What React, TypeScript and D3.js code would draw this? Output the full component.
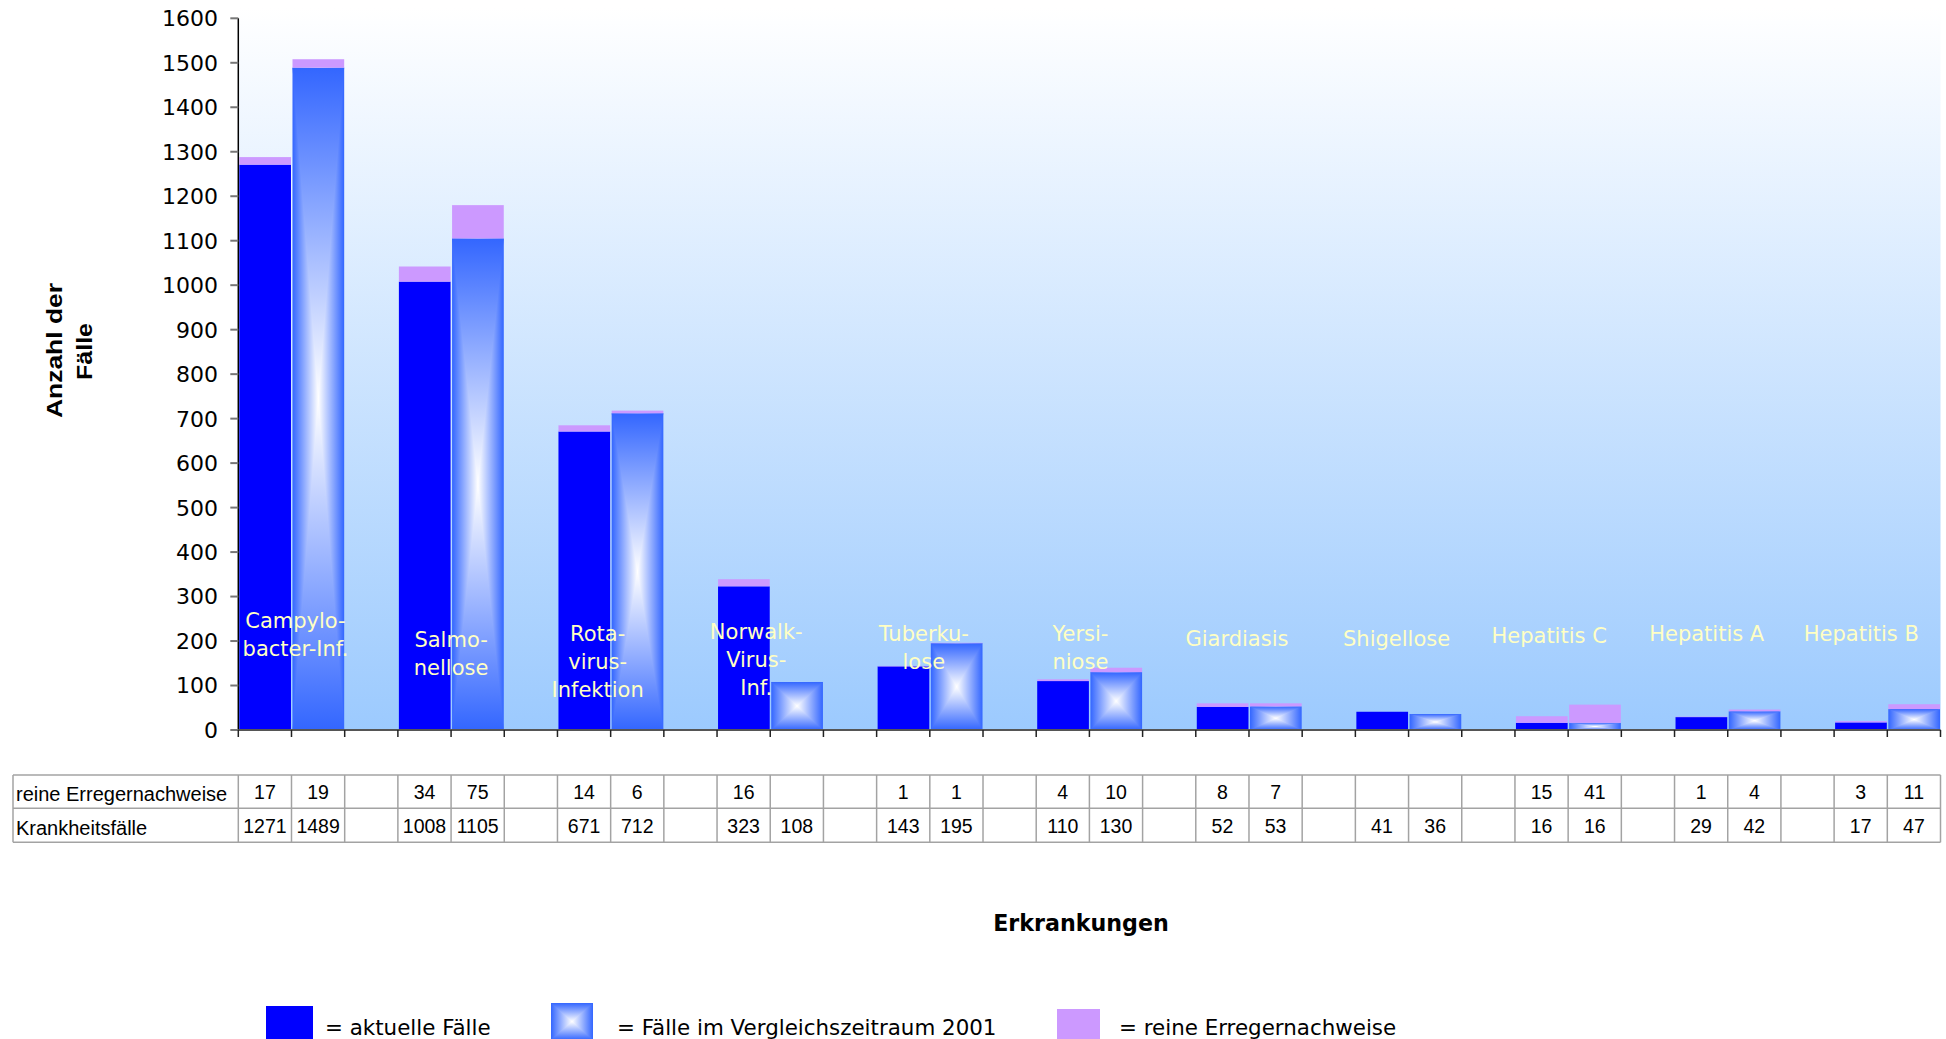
import React from "react";
import * as d3 from "d3";

// Disease categories, label lines as they are broken inside the plot
const categoryLines: string[][] = [
  ["Campylo-", "bacter-Inf."],
  ["Salmo-", "nellose"],
  ["Rota-", "virus-", "Infektion"],
  ["Norwalk-", "Virus-", "Inf."],
  ["Tuberku-", "lose"],
  ["Yersi-", "niose"],
  ["Giardiasis"],
  ["Shigellose"],
  ["Hepatitis C"],
  ["Hepatitis A"],
  ["Hepatitis B"],
];

// Krankheitsfälle: current period and comparison period 2001
const casesCurrent = [1271, 1008, 671, 323, 143, 110, 52, 41, 16, 29, 17];
const casesPrior = [1489, 1105, 712, 108, 195, 130, 53, 36, 16, 42, 47];

// reine Erregernachweise (null = no entry)
const pathogenCurrent: (number | null)[] = [17, 34, 14, 16, 1, 4, 8, null, 15, 1, 3];
const pathogenPrior: (number | null)[] = [19, 75, 6, null, 1, 10, 7, null, 41, 4, 11];

const rowLabels = ["reine Erregernachweise", "Krankheitsfälle"];
const legendLabels = [
  "= aktuelle Fälle",
  "= Fälle im Vergleichszeitraum 2001",
  "= reine Erregernachweise",
];

// Layout
const W = 1946;
const H = 1039;
const X0 = 238.3;
const X1 = 1940.5;
const Y_BASE = 730;
const Y_TOP = 18.3;
const TABLE_LEFT = 13;
const TABLE_ROWS = [775, 808.3, 842.3];

// Category label placement (horizontal shift from group centre, first baseline)
const labelDx = [4, 0, -13, -14, -6, -9, -12, -12, -19, -21, -26];
const labelBaseline = [628, 647, 641, 639, 641, 641, 646, 646, 643, 641, 641];

const BLUE = "#0000ff";
const EDGE = "#3366ff";
const LILAC = "#cc99ff";
const LABEL_COLOR = "#ffffc4";

function BoxBar({ x, y, w, h }: { x: number; y: number; w: number; h: number }) {
  const cx = x + w / 2;
  const cy = y + h / 2;
  return (
    <g>
      <rect x={x} y={y} width={w} height={h} fill="url(#boxH)" />
      <polygon points={`${x},${y} ${x + w},${y} ${cx},${cy}`} fill="url(#boxTop)" />
      <polygon points={`${x},${y + h} ${x + w},${y + h} ${cx},${cy}`} fill="url(#boxBottom)" />
    </g>
  );
}

export default function App() {
  const nGroups = categoryLines.length;
  const nSlots = nGroups * 3 - 1;
  const x = d3.scaleBand<number>().domain(d3.range(nSlots)).range([X0, X1]).padding(0);
  const y = d3.scaleLinear().domain([0, 1600]).range([Y_BASE, Y_TOP]);
  const bw = x.bandwidth();
  const slotEdge = (i: number) => (i >= nSlots ? X1 : (x(i) as number));

  const barX = (slot: number) => (x(slot) as number) + 1;
  const barW = bw - 1.5;

  const sans = "'DejaVu Sans', Verdana, sans-serif";
  const arial = "'Liberation Sans', Arial, sans-serif";

  return (
    <svg
      width={W}
      height={H}
      style={{ position: "absolute", left: 0, top: 0, display: "block", background: "#fff" }}
    >
      <defs>
        <linearGradient id="plotBg" x1="0" y1="0" x2="0" y2="1">
          <stop offset="0" stopColor="#ffffff" />
          <stop offset="1" stopColor="#9ccafe" />
        </linearGradient>
        <linearGradient id="boxH" x1="0" y1="0" x2="1" y2="0">
          <stop offset="0" stopColor={EDGE} />
          <stop offset="0.5" stopColor="#ffffff" />
          <stop offset="1" stopColor={EDGE} />
        </linearGradient>
        <linearGradient id="boxTop" x1="0" y1="0" x2="0" y2="1">
          <stop offset="0" stopColor={EDGE} />
          <stop offset="1" stopColor="#ffffff" />
        </linearGradient>
        <linearGradient id="boxBottom" x1="0" y1="0" x2="0" y2="1">
          <stop offset="0" stopColor="#ffffff" />
          <stop offset="1" stopColor={EDGE} />
        </linearGradient>
      </defs>

      {/* plot background */}
      <rect x={X0} y={8} width={X1 - X0} height={Y_BASE - 8} fill="url(#plotBg)" />

      {/* bars */}
      {categoryLines.map((_, i) => {
        const s0 = i * 3;
        const s1 = i * 3 + 1;
        const c = casesCurrent[i];
        const p = casesPrior[i];
        const pc = pathogenCurrent[i] ?? 0;
        const pp = pathogenPrior[i] ?? 0;
        return (
          <g key={i}>
            <rect x={barX(s0)} y={y(c)} width={barW} height={y(0) - y(c)} fill={BLUE} />
            {pc > 0 && (
              <rect x={barX(s0)} y={y(c + pc)} width={barW} height={y(c) - y(c + pc)} fill={LILAC} />
            )}
            <BoxBar x={barX(s1)} y={y(p)} w={barW} h={y(0) - y(p)} />
            {pp > 0 && (
              <rect x={barX(s1)} y={y(p + pp)} width={barW} height={y(p) - y(p + pp)} fill={LILAC} />
            )}
          </g>
        );
      })}

      {/* category labels */}
      {categoryLines.map((lines, i) => {
        const cx = slotEdge(i * 3 + 1) + labelDx[i];
        return (
          <text
            key={i}
            x={cx}
            y={labelBaseline[i]}
            textAnchor="middle"
            fontFamily={sans}
            fontSize={21}
            fill={LABEL_COLOR}
          >
            {lines.map((l, k) => (
              <tspan key={k} x={cx} dy={k === 0 ? 0 : 28}>
                {l}
              </tspan>
            ))}
          </text>
        );
      })}

      {/* y axis */}
      <line x1={X0} x2={X0} y1={Y_TOP} y2={Y_BASE} stroke="#000" strokeWidth={1.5} />
      {y.ticks(16).map((t) => (
        <g key={t}>
          <line x1={X0 - 8} x2={X0} y1={y(t)} y2={y(t)} stroke="#777" strokeWidth={2} />
          <text
            x={218}
            y={y(t)}
            dy="0.36em"
            textAnchor="end"
            fontFamily={sans}
            fontSize={22}
            fill="#000"
          >
            {t}
          </text>
        </g>
      ))}

      {/* x axis */}
      <line x1={X0} x2={X1} y1={Y_BASE} y2={Y_BASE} stroke="#555" strokeWidth={2} />
      {d3.range(nSlots + 1).map((i) => (
        <line
          key={i}
          x1={slotEdge(i)}
          x2={slotEdge(i)}
          y1={Y_BASE}
          y2={Y_BASE + 7}
          stroke="#222"
          strokeWidth={1.5}
        />
      ))}

      {/* y axis title */}
      <text
        transform="translate(61.5,350.5) rotate(-90)"
        textAnchor="middle"
        fontFamily={arial}
        fontWeight="bold"
        fontSize={22}
        textLength={135}
        lengthAdjust="spacingAndGlyphs"
      >
        Anzahl der
      </text>
      <text
        transform="translate(91.5,351.5) rotate(-90)"
        textAnchor="middle"
        fontFamily={arial}
        fontWeight="bold"
        fontSize={22}
        textLength={57}
        lengthAdjust="spacingAndGlyphs"
      >
        Fälle
      </text>

      {/* data table */}
      <g stroke="#a3a3a3" strokeWidth={1.5}>
        {TABLE_ROWS.map((ty, k) => (
          <line key={k} x1={TABLE_LEFT} x2={X1} y1={ty} y2={ty} />
        ))}
        <line x1={TABLE_LEFT} x2={TABLE_LEFT} y1={TABLE_ROWS[0]} y2={TABLE_ROWS[2]} />
        {d3.range(nSlots + 1).map((i) => (
          <line
            key={i}
            x1={slotEdge(i)}
            x2={slotEdge(i)}
            y1={TABLE_ROWS[0]}
            y2={TABLE_ROWS[2]}
          />
        ))}
      </g>
      {rowLabels.map((r, k) => (
        <text
          key={r}
          x={TABLE_LEFT + 3}
          y={k === 0 ? 800.5 : 834.5}
          fontFamily={arial}
          fontSize={20}
          fill="#000"
        >
          {r}
        </text>
      ))}
      {categoryLines.map((_, i) => {
        const cells: [number, number | null, number][] = [
          [i * 3, pathogenCurrent[i], 0],
          [i * 3 + 1, pathogenPrior[i], 0],
          [i * 3, casesCurrent[i], 1],
          [i * 3 + 1, casesPrior[i], 1],
        ];
        return cells.map(([s, v, row], k) =>
          v == null ? null : (
            <text
              key={`${i}-${k}`}
              x={(x(s) as number) + bw / 2}
              y={row === 0 ? 798.5 : 832.5}
              textAnchor="middle"
              fontFamily={arial}
              fontSize={19.5}
              fill="#000"
            >
              {v}
            </text>
          )
        );
      })}

      {/* x axis title */}
      <text
        x={1081}
        y={931}
        textAnchor="middle"
        fontFamily={sans}
        fontWeight="bold"
        fontSize={22.2}
        fill="#000"
      >
        Erkrankungen
      </text>

      {/* legend */}
      <rect x={266} y={1006} width={47} height={40} fill={BLUE} />
      <text x={325} y={1035} fontFamily={sans} fontSize={21.4} fill="#000">
        {legendLabels[0]}
      </text>
      <BoxBar x={551} y={1003} w={42} h={37} />
      <text x={617} y={1035} fontFamily={sans} fontSize={21.4} fill="#000">
        {legendLabels[1]}
      </text>
      <rect x={1057} y={1009} width={43} height={40} fill={LILAC} />
      <text x={1119} y={1035} fontFamily={sans} fontSize={21.4} fill="#000">
        {legendLabels[2]}
      </text>
    </svg>
  );
}
